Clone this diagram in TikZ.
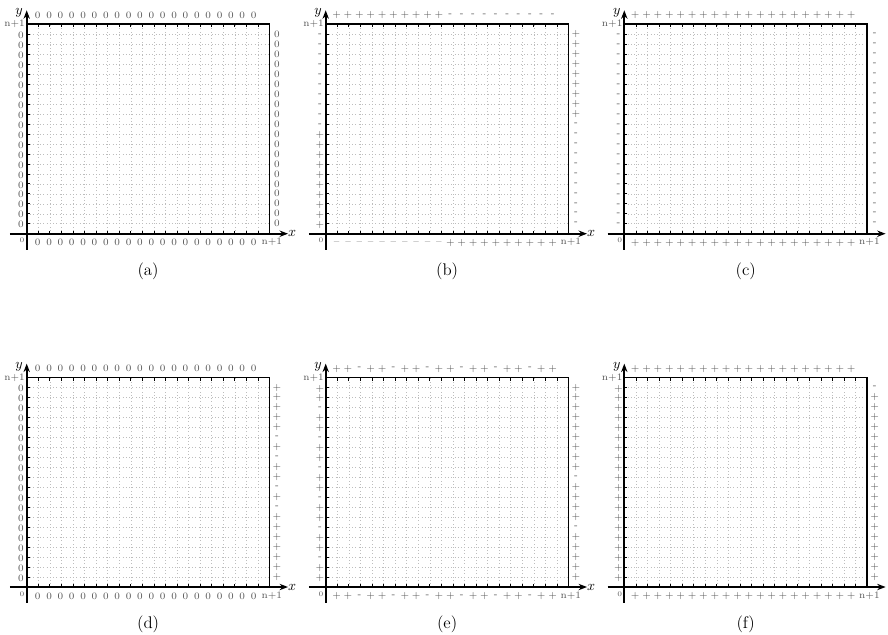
\documentclass[tikz,border=0pt]{standalone}
\usetikzlibrary{arrows.meta}
\definecolor{LGrid}{HTML}{BDBDBD}
\definecolor{Lbl}{HTML}{555555}
\tikzset{
  gridln/.style={dotted, draw=LGrid, line width=0.35pt},
  axisln/.style={line width=1.2pt, -{Stealth[length=6pt,width=4.5pt]}},
  edgeln/.style={line width=1.2pt},
  tickln/.style={line width=0.5pt},
  sgn/.style={font=\scriptsize, text=Lbl, inner sep=0pt},
  cornr/.style={font=\scriptsize, text=Lbl, inner sep=0pt},
  axlbl/.style={inner sep=0pt},
  capt/.style={font=\large, inner sep=0pt},
}
% #1,#2 origin (px), #3 top, #4 left, #5 right, #6 bottom, #7 caption, #8 x label
\newcommand{\signpanel}[8]{%
  \begin{scope}[shift={(#1,#2)}, x=0.289cm, y=0.24925cm]
    \draw[gridln, step=1] (0,0) grid (21,21);
    \foreach \k in {1,...,20}{
      \draw[tickln] (\k,0) -- (\k,0.3);
      \draw[tickln] (0,\k) -- (0.25,\k);
      \draw[tickln] (\k,21) -- (\k,20.7);
    }
    \draw[edgeln] (0,21) -- (21,21) -- (21,0);
    \draw[axisln] (-1.45,0) -- (22.6,0);
    \draw[axisln] (0,-1.6) -- (0,22.4);
    \node[axlbl] (#7-x) at (22.95,0) {#8};
    \node[axlbl] (#7-y) at (-0.65,22.1) {$y$};
    \node[cornr] (#7-o) at (-0.4,-0.7) {\tiny 0};
    \node[cornr] (#7-nt) at (-1.05,21) {n+1};
    \node[cornr] (#7-nb) at (21.2,-0.85) {n+1};
    \foreach \s [count=\i] in {#3}
      \node[sgn] (#7-t\i) at ({0.95+(\i-1)*0.983},21.9) {\s};
    \foreach \s [count=\i] in {#4}
      \node[sgn] (#7-l\i) at (-0.5,20.9-\i) {\s};
    \foreach \s [count=\i] in {#5}
      \node[sgn] (#7-r\i) at (21.65,21-\i) {\s};
    \foreach \s [count=\i] in {#6}
      \node[sgn] (#7-b\i) at ({0.95+(\i-1)*0.983},-0.9) {\s};
    \node[capt] (#7-cap) at (10.5,-3.75) {(#7)};
  \end{scope}}

\begin{document}
\begin{tikzpicture}[x=0.025cm,y=-0.025cm]
  \useasboundingbox (0,0) rectangle (888,634);
  \signpanel{26.7}{233.7}
    {0,0,0,0,0,0,0,0,0,0,0,0,0,0,0,0,0,0,0,0}
    {0,0,0,0,0,0,0,0,0,0,0,0,0,0,0,0,0,0,0,0}
    {0,0,0,0,0,0,0,0,0,0,0,0,0,0,0,0,0,0,0,0}
    {0,0,0,0,0,0,0,0,0,0,0,0,0,0,0,0,0,0,0,0}{a}{$x$}
  \signpanel{325.7}{233.7}
    {+,+,+,+,+,+,+,+,+,+,-,-,-,-,-,-,-,-,-,-}
    {-,-,-,-,-,-,-,-,-,-,+,+,+,+,+,+,+,+,+,+}
    {+,+,+,+,+,+,+,+,+,-,-,-,-,-,-,-,-,-,-,-}
    {--,--,--,--,--,--,--,--,--,--,+,+,+,+,+,+,+,+,+,+}{b}{$x$}
  \signpanel{624.3}{233.7}
    {+,+,+,+,+,+,+,+,+,+,+,+,+,+,+,+,+,+,+,+}
    {-,-,-,-,-,-,-,-,-,-,-,-,-,-,-,-,-,-,-,-}
    {-,-,-,-,-,-,-,-,-,-,-,-,-,-,-,-,-,-,-,-}
    {+,+,+,+,+,+,+,+,+,+,+,+,+,+,+,+,+,+,+,+}{c}{}
  \signpanel{26.7}{587}
    {0,0,0,0,0,0,0,0,0,0,0,0,0,0,0,0,0,0,0,0}
    {0,0,0,0,0,0,0,0,0,0,0,0,0,0,0,0,0,0,0,0}
    {+,+,+,+,+,-,+,-,+,+,-,+,-,+,+,+,+,+,+,+}
    {0,0,0,0,0,0,0,0,0,0,0,0,0,0,0,0,0,0,0,0}{d}{$x$}
  \signpanel{325.7}{587}
    {+,+,-,+,+,-,+,+,-,+,+,-,+,+,-,+,+,-,+,+}
    {+,+,-,+,+,-,+,+,-,+,+,-,+,+,-,+,+,-,+,+}
    {+,+,+,+,+,+,+,+,+,-,+,+,+,+,-,+,+,+,+,+}
    {+,+,-,+,+,-,+,+,-,+,+,-,+,+,-,+,+,-,+,+}{e}{$x$}
  \signpanel{624.3}{587}
    {+,+,+,+,+,+,+,+,+,+,+,+,+,+,+,+,+,+,+,+}
    {+,+,+,+,+,+,+,+,+,+,+,+,+,+,+,+,+,+,+,+}
    {-,+,+,+,+,+,+,+,+,+,+,+,+,+,+,+,+,+,+,+}
    {+,+,+,+,+,+,+,+,+,+,+,+,+,+,+,+,+,+,+,+}{f}{}
\end{tikzpicture}
\end{document}
